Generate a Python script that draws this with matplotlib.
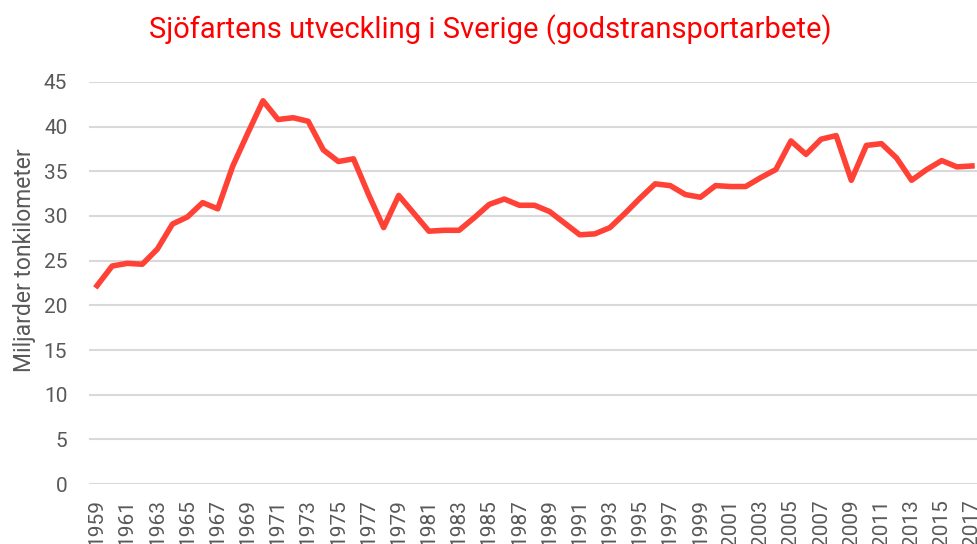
import matplotlib
matplotlib.use("Agg")
import matplotlib.pyplot as plt

# data (billion tonne-km)
years = list(range(1959, 2018))
tonkm = [22.2, 24.4, 24.7, 24.6, 26.3, 29.1, 29.9, 31.5, 30.8, 35.6,
         39.3, 42.9, 40.8, 41.0, 40.6, 37.4, 36.1, 36.4, 32.4, 28.7,
         32.3, 30.3, 28.3, 28.4, 28.4, 29.8, 31.3, 31.9, 31.2, 31.2,
         30.5, 29.2, 27.9, 28.0, 28.7, 30.3, 32.0, 33.6, 33.4, 32.4,
         32.1, 33.4, 33.3, 33.3, 34.3, 35.2, 38.4, 36.9, 38.6, 39.0,
         34.0, 37.9, 38.1, 36.5, 34.0, 35.2, 36.2, 35.5, 35.6]
yticks = list(range(0, 50, 5))
xticks = years[::2]

title = "Sjöfartens utveckling i Sverige (godstransportarbete)"
ylabel = "Miljarder tonkilometer"

plt.rcParams['font.family'] = ['Roboto', 'DejaVu Sans']
grey = '#595959'

fig = plt.figure(figsize=(9.78, 5.44), dpi=100)
ax = fig.add_axes([89.5 / 978, 60 / 544, 890 / 978, 402 / 544])

# main series
ax.plot(years, tonkm, color='#FF4136', linewidth=4, zorder=3)

ax.set_xlim(1958.5, 2017.5)
ax.set_ylim(0, 45)
ax.set_yticks(yticks)
ax.set_xticks(xticks)
ax.set_xticklabels([str(y) for y in xticks], rotation=90, fontsize=15, color=grey)
ax.set_yticklabels([str(v) for v in yticks], fontsize=15, color=grey)
ax.tick_params(axis='y', length=0, pad=16)
ax.tick_params(axis='x', length=0, pad=11)

ax.grid(axis='y', color='#D9D9D9', linewidth=1.5)
ax.set_axisbelow(True)
for s in ax.spines.values():
    s.set_visible(False)

fig.text(490 / 978, 1 - 30 / 544, title, ha='center', va='center',
         fontsize=21, color='#FF0000')
fig.text(25 / 978, 1 - 260 / 544, ylabel, rotation=90, ha='center', va='center',
         fontsize=16.5, color=grey)

fig.savefig('out.png', dpi=100)
